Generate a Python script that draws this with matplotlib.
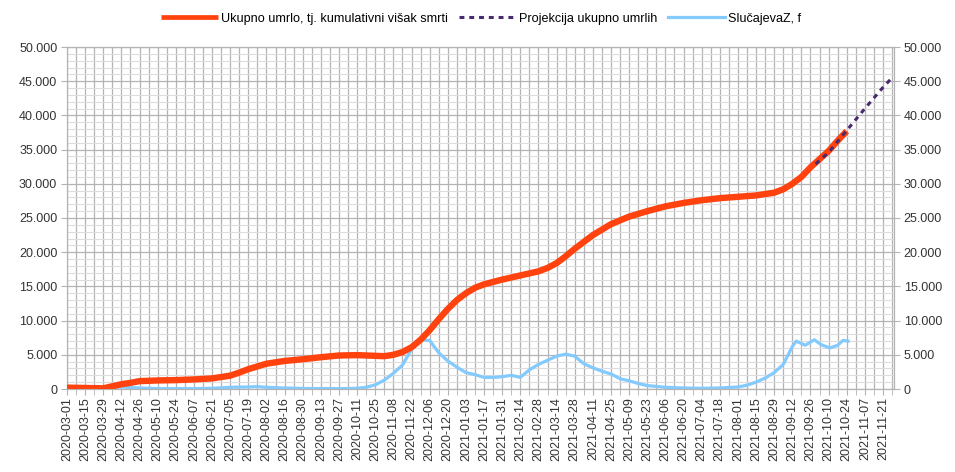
import matplotlib
matplotlib.use("Agg")
import matplotlib.pyplot as plt
import matplotlib.dates as mdates
import matplotlib.ticker as mticker
import pandas as pd

plt.rcParams['font.family'] = ['Liberation Sans', 'DejaVu Sans']

# ---- data ----
umrlo_dates = ["2020-03-01", "2020-03-15", "2020-03-29", "2020-04-05", "2020-04-12", "2020-04-19",
               "2020-04-26", "2020-05-10", "2020-05-24", "2020-06-07", "2020-06-21", "2020-07-05",
               "2020-07-12", "2020-07-19", "2020-08-02", "2020-08-16", "2020-08-30", "2020-09-13",
               "2020-09-27", "2020-10-11", "2020-10-25", "2020-11-01", "2020-11-08", "2020-11-15",
               "2020-11-22", "2020-11-29", "2020-12-06", "2020-12-13", "2020-12-20", "2020-12-27",
               "2021-01-03", "2021-01-10", "2021-01-17", "2021-01-31", "2021-02-14", "2021-02-28",
               "2021-03-07", "2021-03-14", "2021-03-21", "2021-03-28", "2021-04-04", "2021-04-11",
               "2021-04-25", "2021-05-09", "2021-05-23", "2021-06-06", "2021-06-20", "2021-07-04",
               "2021-07-18", "2021-08-01", "2021-08-15", "2021-08-29", "2021-09-05", "2021-09-12",
               "2021-09-19", "2021-09-26", "2021-10-03", "2021-10-10", "2021-10-17", "2021-10-24"]
umrlo_values = [200, 150, 100, 400, 700, 900,
                1150, 1250, 1300, 1400, 1550, 1950,
                2400, 2900, 3700, 4100, 4350, 4650,
                4900, 4950, 4850, 4800, 5000, 5400,
                6100, 7200, 8600, 10200, 11700, 13000,
                14000, 14800, 15300, 16000, 16600, 17200,
                17700, 18400, 19400, 20500, 21500, 22500,
                24100, 25200, 26000, 26700, 27200, 27600,
                27900, 28100, 28300, 28700, 29200, 30000,
                31000, 32400, 33600, 34800, 36300, 37700]

proj_dates = ["2021-09-30", "2021-10-10", "2021-10-24", "2021-11-07", "2021-11-21", "2021-11-29"]
proj_values = [32900, 34600, 37800, 41000, 44100, 45700]

slucajeva_dates = ["2020-03-01", "2020-03-29", "2020-04-12", "2020-04-26", "2020-05-10", "2020-06-07",
                   "2020-06-21", "2020-07-05", "2020-07-19", "2020-07-26", "2020-08-02", "2020-08-16",
                   "2020-08-30", "2020-09-27", "2020-10-11", "2020-10-18", "2020-10-25", "2020-11-01",
                   "2020-11-08", "2020-11-15", "2020-11-22", "2020-11-29", "2020-12-06", "2020-12-13",
                   "2020-12-20", "2020-12-27", "2021-01-03", "2021-01-10", "2021-01-17", "2021-01-24",
                   "2021-01-31", "2021-02-07", "2021-02-14", "2021-02-21", "2021-02-28", "2021-03-07",
                   "2021-03-14", "2021-03-21", "2021-03-28", "2021-04-04", "2021-04-11", "2021-04-18",
                   "2021-04-25", "2021-05-02", "2021-05-09", "2021-05-16", "2021-05-23", "2021-06-06",
                   "2021-06-20", "2021-07-04", "2021-07-18", "2021-08-01", "2021-08-08", "2021-08-15",
                   "2021-08-22", "2021-08-29", "2021-09-05", "2021-09-12", "2021-09-15", "2021-09-22",
                   "2021-09-29", "2021-10-04", "2021-10-11", "2021-10-17", "2021-10-21", "2021-10-25"]
slucajeva_values = [0, 100, 300, 150, 50, 50,
                    100, 250, 300, 350, 250, 150,
                    80, 50, 100, 250, 600, 1300,
                    2300, 3500, 5800, 7200, 7100, 5300,
                    4100, 3200, 2400, 2100, 1700, 1700,
                    1800, 2000, 1700, 2800, 3600, 4200,
                    4800, 5100, 4800, 3700, 3100, 2600,
                    2200, 1500, 1200, 800, 500, 250,
                    150, 100, 150, 300, 550, 1000,
                    1600, 2400, 3600, 6200, 7000, 6400,
                    7200, 6500, 6000, 6400, 7100, 7000]

labels = ["Ukupno umrlo, tj. kumulativni višak smrti", "Projekcija ukupno umrlih", "SlučajevaZ, f"]

x_start = pd.Timestamp("2020-03-01")
x_end = pd.Timestamp("2021-11-29 12:00")
last_label = pd.Timestamp("2021-11-21")

# ---- figure ----
fig = plt.figure(figsize=(9.55, 4.72), dpi=100)
ax = fig.add_axes([67/955, 1 - 389/472, (894 - 67)/955, (389 - 47)/472])

ax.plot(pd.to_datetime(umrlo_dates), umrlo_values, color="#ff420e", lw=4.6,
        solid_capstyle="butt", solid_joinstyle="round", label=labels[0], zorder=3)
ax.plot(pd.to_datetime(proj_dates), proj_values, color="#482a6f", lw=2.2,
        linestyle=(0, (1.6, 1.6)), label=labels[1], zorder=4)
ax.plot(pd.to_datetime(slucajeva_dates), slucajeva_values, color="#83caff", lw=2.3,
        solid_joinstyle="round", label=labels[2], zorder=2)

ax.set_xlim(x_start, x_end)
ax.set_ylim(0, 50000)

major_ticks = pd.date_range(x_start, last_label, freq="14D")
minor_ticks = pd.date_range(x_start + pd.Timedelta(days=7), x_end, freq="14D")
ax.set_xticks(mdates.date2num(major_ticks))
ax.set_xticks(mdates.date2num(minor_ticks), minor=True)
ax.set_xticklabels([d.strftime("%Y-%m-%d") for d in major_ticks], rotation=90, fontsize=9)

ax.yaxis.set_major_locator(mticker.MultipleLocator(5000))
ax.yaxis.set_minor_locator(mticker.MultipleLocator(1000))
ax.yaxis.set_major_formatter(mticker.FuncFormatter(lambda v, p: f"{int(v):,}".replace(",", ".")))

ax.grid(True, which="major", axis="both", color="#b3b3b3", lw=0.9)
ax.grid(True, which="minor", axis="x", color="#b3b3b3", lw=0.9)
ax.grid(True, which="minor", axis="y", color="#dddddd", lw=0.8)
ax.set_axisbelow(True)

ax.tick_params(axis="y", which="major", labelsize=9, labelright=True, right=True, left=True,
               length=4, pad=3)
ax.tick_params(axis="y", which="minor", length=0)
ax.tick_params(axis="x", which="both", length=4, pad=2)
ax.tick_params(axis="both", which="both", color="#b3b3b3", labelcolor="#333333")

for s in ax.spines.values():
    s.set_color("#b3b3b3")
    s.set_linewidth(0.9)

leg = fig.legend(loc="center", bbox_to_anchor=(481/955, 1 - 18.7/472), ncol=3, frameon=False,
                 fontsize=9.1, handlelength=4.5, columnspacing=0.85, handletextpad=0.25)
leg.get_lines()[0].set_linewidth(3.4)

fig.savefig("out.png", dpi=100, facecolor="white")
